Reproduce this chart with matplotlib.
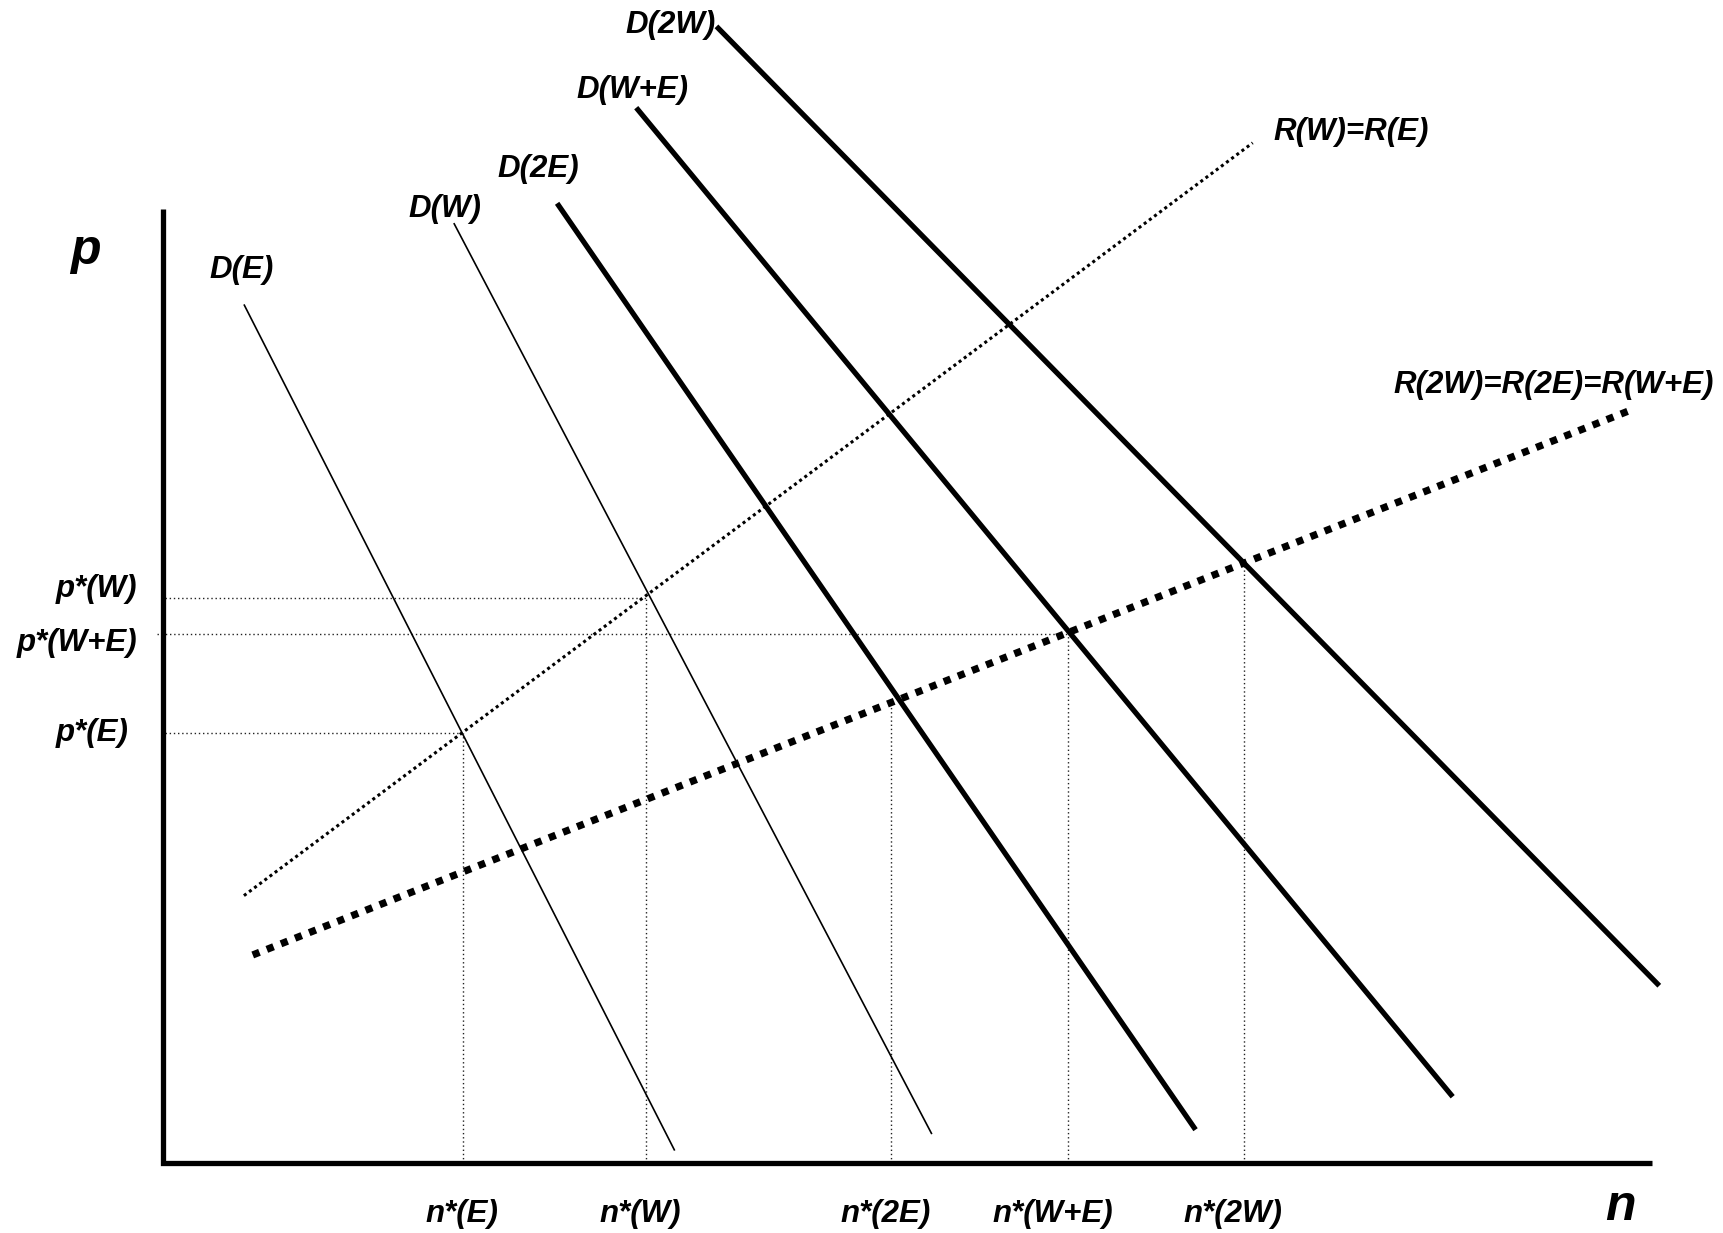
import matplotlib
matplotlib.use("Agg")
import matplotlib.pyplot as plt

# Diagram coordinates: n (quantity) to the right, p (price) up, origin at axis corner
n_axis_max = 1355
p_axis_max = 868

# Demand curves: (n_start, p_start, n_end, p_end)
demand_names = ["D(E)", "D(W)", "D(2E)", "D(W+E)", "D(2W)"]
demand_n0 = [74, 265, 359, 431, 504]
demand_p0 = [781, 855, 873, 960, 1034]
demand_n1 = [466, 700, 940, 1174, 1362]
demand_p1 = [11, 26, 30, 60, 161]
demand_thick = [False, False, True, True, True]
demand_label_n = [72, 257, 342, 428, 462]
demand_label_p = [812, 868, 904, 976, 1035]

# Supply (R) curves
r_names = ["R(W)=R(E)", "R(2W)=R(2E)=R(W+E)"]
r_n0 = [74, 82]
r_p0 = [243, 189]
r_n1 = [992, 1334]
r_p1 = [928, 684]
r_label_n = [1082, 1266]
r_label_p = [938, 708]

# Equilibria
eq_names = ["E", "W", "2E", "W+E", "2W"]
eq_n = [273, 440, 663, 824, 984]
eq_p = [391, 514, 420, 481, 545]
# which equilibria get a horizontal p* guide and label
p_guides = ["W", "W+E", "E"]
p_guide_start = [2, -5, 2]
p_label_n = [-60, -78, -64]
p_label_p = [522, 473, 391]
n_label_n = [272, 435, 658, 810, 974]
n_label_p = -47

fig = plt.figure(figsize=(17.23, 12.33), dpi=100)
ax = fig.add_axes([0, 0, 1, 1])
ax.set_xlim(-148, 1420)
ax.set_ylim(-64, 1058)
ax.axis("off")

FONT = "Liberation Sans"
lab = dict(family=FONT, fontweight="bold", fontstyle="italic", fontsize=22.5)

# guide lines
for name, s in zip(p_guides, p_guide_start):
    i = eq_names.index(name)
    ax.plot([s, eq_n[i]], [eq_p[i], eq_p[i]], color="#222222", lw=1.0,
            linestyle=(0, (1, 2.0)), zorder=1)
for i in range(len(eq_names)):
    ax.plot([eq_n[i], eq_n[i]], [0, eq_p[i]], color="#222222", lw=1.0,
            linestyle=(0, (1, 2.0)), zorder=1)

# demand curves
for i in range(len(demand_names)):
    lw = 3.8 if demand_thick[i] else 1.2
    ax.plot([demand_n0[i], demand_n1[i]], [demand_p0[i], demand_p1[i]],
            color="black", lw=lw, solid_capstyle="butt", zorder=3)
    ax.text(demand_label_n[i], demand_label_p[i], demand_names[i],
            ha="center", va="center", **lab)

# R curves
ax.plot([r_n0[0], r_n1[0]], [r_p0[0], r_p1[0]], color="black", lw=2.2,
        linestyle=(0, (1, 1.1)), dash_capstyle="butt", zorder=2)
ax.plot([r_n0[1], r_n1[1]], [r_p0[1], r_p1[1]], color="black", lw=5.2,
        linestyle=(0, (1, 1.1)), dash_capstyle="butt", zorder=2)
for i in range(2):
    ax.text(r_label_n[i], r_label_p[i], r_names[i], ha="center", va="center", **lab)

# axes
ax.plot([0, 0, n_axis_max], [p_axis_max, 0, 0], color="black", lw=3.8,
        solid_joinstyle="miter", solid_capstyle="butt", zorder=4)
ax.text(-70, 830, "p", ha="center", va="center", family=FONT,
        fontweight="bold", fontstyle="italic", fontsize=36)
ax.text(1327, -40, "n", ha="center", va="center", family=FONT,
        fontweight="bold", fontstyle="italic", fontsize=36)

# p* labels
for name, ln, lp in zip(p_guides, p_label_n, p_label_p):
    ax.text(ln, lp, "p*(" + name + ")", ha="center", va="center", **lab)
# n* labels
for name, ln in zip(eq_names, n_label_n):
    ax.text(ln, n_label_p, "n*(" + name + ")", ha="center", va="center", **lab)

fig.savefig("out.png", dpi=100, facecolor="white")
